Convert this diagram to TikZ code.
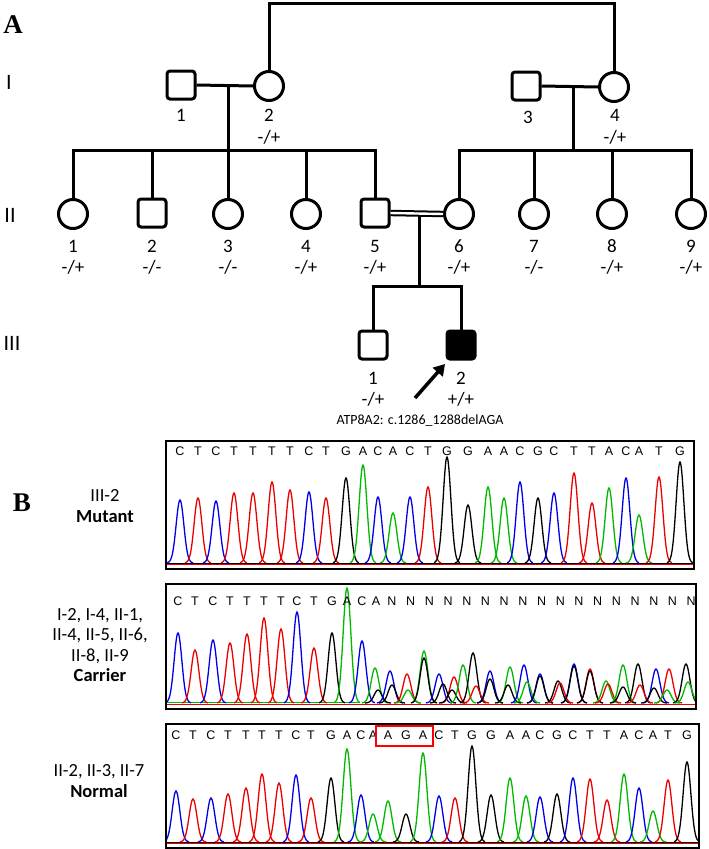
\documentclass[tikz,border=0pt]{standalone}
\usepackage{fontspec}
\setmainfont{Carlito}
\newfontfamily\panelfont{Liberation Serif}
\newfontfamily\seqfont{Liberation Sans}
\usetikzlibrary{arrows.meta}
\definecolor{tA}{RGB}{0,185,0}
\definecolor{tC}{RGB}{0,0,235}
\definecolor{tT}{RGB}{235,0,0}
\definecolor{tG}{RGB}{0,0,0}
\newcommand\pk[4]{%
  \pgfmathsetmacro\pka{#1-13}\pgfmathsetmacro\pkb{#1+13}%
  \draw[#4,trace] plot[domain=\pka:\pkb,samples=27,smooth] (\x,{#2-(#2-#3)*exp(-((\x-#1)^2)/30)});}
\tikzset{
  ped/.style={line width=3pt, line join=miter},
  male/.style={draw, line width=3pt, rectangle, rounded corners=3pt, minimum size=28pt, inner sep=0pt},
  female/.style={draw, line width=3pt, circle, minimum size=29pt, inner sep=0pt},
  lab/.style={font=\fontsize{19}{21}\selectfont, inner sep=0pt},
  gen/.style={font=\fontsize{22}{24}\selectfont, inner sep=0pt},
  panel/.style={font=\panelfont\bfseries\fontsize{27}{30}\selectfont, inner sep=0pt},
  seq/.style={font=\seqfont\fontsize{12.5}{13}\selectfont, inner sep=0pt},
  side/.style={font=\fontsize{18.5}{20.5}\selectfont, inner sep=0pt, align=center},
  chrom/.style={draw, line width=2.4pt, inner sep=0pt, anchor=north west},
  trace/.style={line width=1.3pt}
}
\begin{document}
\begin{tikzpicture}[x=1pt,y=-1pt]
\useasboundingbox (0,0) rectangle (709,849);
% ---------------- Panel A ----------------
\node[panel] (pA) at (13,25) {A};
\node[gen] (gI) at (9,82) {I};
\node[gen] (gII) at (10,215) {II};
\node[gen] (gIII) at (12,343) {III};
% generation I
\node[male] (I1) at (181,85) {};
\node[female] (I2) at (269,86) {};
\node[male] (I3) at (526,86) {};
\node[female] (I4) at (614,87) {};
% generation II
\node[female] (II1) at (73,214) {};
\node[male] (II2) at (152,213) {};
\node[female] (II3) at (228,214) {};
\node[female] (II4) at (306,214) {};
\node[male] (II5) at (375,213) {};
\node[female] (II6) at (459,214) {};
\node[female] (II7) at (534,214) {};
\node[female] (II8) at (612,214) {};
\node[female] (II9) at (691,214) {};
% generation III
\node[male] (III1) at (373,345) {};
\node[male, fill=black] (III2) at (461,345) {};
% connectors
\coordinate (top) at (440,3.5);
\draw[ped] (I2.north) |- (top) -| (I4.north);
\draw[ped] (I1.east) -- (I2.west);
\draw[ped] (I3.east) -- (I4.west);
\coordinate (m1) at (228,86);
\coordinate (s1) at (228,150);
\coordinate (m2) at (573,87);
\coordinate (s2) at (573,150);
\draw[ped] (m1) -- (s1);
\draw[ped] (m2) -- (s2);
\draw[ped] (II1.north) |- (s1) -| (II5.north);
\draw[ped] (II2.north) -- (II2.north |- s1);
\draw[ped] (II3.north) -- (II3.north |- s1);
\draw[ped] (II4.north) -- (II4.north |- s1);
\draw[ped] (II6.north) |- (s2) -| (II9.north);
\draw[ped] (II7.north) -- (II7.north |- s2);
\draw[ped] (II8.north) -- (II8.north |- s2);
\draw[line width=2pt, double, double distance=2.4pt] (II5.east) -- (II6.west);
\coordinate (m3) at (419,215.5);
\coordinate (s3) at (419,286);
\draw[ped] (m3) -- (s3);
\draw[ped] (III1.north) |- (s3) -| (III2.north);
% labels
\node[lab] (nI1) at (181,115) {1};
\node[lab] (nI2) at (269,115) {2};
\node[lab] (gtI2) at (269,137) {-/+};
\node[lab] (nI3) at (528,117) {3};
\node[lab] (nI4) at (615,115) {4};
\node[lab] (gtI4) at (615,137) {-/+};
\foreach \n/\xx/\g in {1/73/-{/}+, 2/152/-{/}-, 3/228/-{/}-, 4/306/-{/}+, 5/375/-{/}+, 6/459/-{/}+, 7/534/-{/}-, 8/612/-{/}+, 9/691/-{/}+}{
  \node[lab] (nII\n) at (\xx,246) {\n};
  \node[lab] (gtII\n) at (\xx,267) {\g};
}
\node[lab] (nIII1) at (373,378) {1};
\node[lab] (gtIII1) at (373,399) {-/+};
\node[lab] (nIII2) at (461,378) {2};
\node[lab] (gtIII2) at (461,399) {+/+};
\node[font=\fontsize{14}{16}\selectfont, inner sep=0pt] (mut) at (420,421) {ATP8A2: c.1286\_1288delAGA};
\coordinate (arrTail) at (415,398);
\coordinate (arrTip) at (445,364);
\draw[line width=3.5pt, -{Triangle[length=11pt,width=13pt]}] (arrTail) -- (arrTip);
% ---------------- Panel B ----------------
\node[panel] (pB) at (22,503) {B};
\node[side] (t1) at (105,506) {III-2\\\textbf{Mutant}};
\node[side] (t2) at (100,645) {I-2, I-4, II-1,\\II-4, II-5, II-6,\\II-8, II-9\\\textbf{Carrier}};
\node[side] (t3) at (99,781) {II-2, II-3, II-7\\\textbf{Normal}};
% box 1
\begin{scope}
\clip (165,440) rectangle (693,568);
\draw[tT, line width=1pt] (165,564.5) -- (693,564.5);
\draw[tG, line width=1pt] (165,563) -- (693,563);
\foreach \px/\pt/\pl in {180/500/C, 198/498/T, 216/501/C, 234/493/T, 253/493/T, 272/482/T, 290/490/T, 309/492/C, 326/498/T, 346/478/G, 363/465/A, 378/497/C, 393/513/A, 410/497/C, 428/487/T, 447/457/G, 468/505/G, 488/487/A, 504/498/A, 520/482/C, 538/498/G, 554/493/C, 574/473/T, 592/503/T, 609/488/A, 626/478/C, 639/515/A, 659/477/T, 680/462/G}{
  \pk{\px}{563}{\pt}{color=t\pl}
  \node[seq] at (\px,451) {\pl};
}
\end{scope}
\node[chrom, minimum width=528pt, minimum height=128pt] (box1) at (165,440) {};
% box 2
\begin{scope}
\clip (165,583) rectangle (695,708);
\draw[tT, line width=1pt] (165,704.5) -- (695,704.5);
\draw[tA, line width=0.8pt] (165,702.5) -- (360,702.5);
\foreach \px/\pt/\pl in {178/633/C, 195/650/T, 213/640/C, 230/643/T, 247/634/T, 264/618/T, 281/629/T, 297/612/C, 314/648/T, 332/633/G, 347/588/A, 362/641/C}{
  \pk{\px}{703}{\pt}{color=t\pl}
  \node[seq] at (\px,601) {\pl};
}
\foreach \px/\pt/\pl in {375/668/A, 378/690/G, 390/671/C, 392/685/G, 407/674/T, 408/690/A, 424/651/A, 424/658/G, 439/674/C, 443/684/G, 454/677/T, 452/690/G, 463/665/A, 473/653/G, 476/686/T, 490/671/C, 490/679/G, 510/667/A, 508/685/G, 524/665/C, 527/682/A, 540/674/C, 540/676/G, 558/681/G, 560/683/T, 574/664/C, 574/666/G, 590/669/T, 590/671/G, 606/681/A, 608/684/T, 623/665/A, 623/687/G, 638/664/G, 640/685/T, 656/669/C, 654/688/G, 669/669/T, 667/690/A, 686/664/G, 688/682/A}{
  \pk{\px}{703}{\pt}{color=t\pl}
}
\node[seq] at (376,601) {A};
\foreach \k in {0,...,16}{
  \node[seq] at ({392+\k*18.7},601) {N};
}
\end{scope}
\node[chrom, minimum width=530pt, minimum height=125pt] (box2) at (165,583) {};
% box 3
\begin{scope}
\clip (165,723) rectangle (698,847);
\draw[tT, line width=1pt] (165,843.5) -- (698,843.5);
\draw[tG, line width=1pt] (165,842) -- (698,842);
\foreach \px/\pt/\pl in {176/791/C, 193/799/T, 211/798/C, 228/794/T, 246/788/T, 262/774/T, 279/783/T, 296/775/C, 311/798/T, 331/778/G, 347/749/A, 361/795/C, 373/814/A, 388/801/A, 406/814/G, 423/753/A, 439/796/C, 455/798/T, 472/746/G, 491/795/G, 510/778/A, 526/796/A, 540/797/C, 557/794/G, 573/778/C, 590/779/T, 607/800/T, 624/774/A, 639/788/C, 653/811/A, 668/780/T, 687/762/G}{
  \pk{\px}{842}{\pt}{color=t\pl}
  \node[seq] at (\px,735) {\pl};
}
\end{scope}
\node[chrom, minimum width=533pt, minimum height=124pt] (box3) at (165,723) {};
\node[draw=red, line width=1.6pt, minimum width=57pt, minimum height=20pt, inner sep=0pt] (agabox) at (404.5,736) {};
\end{tikzpicture}
\end{document}
